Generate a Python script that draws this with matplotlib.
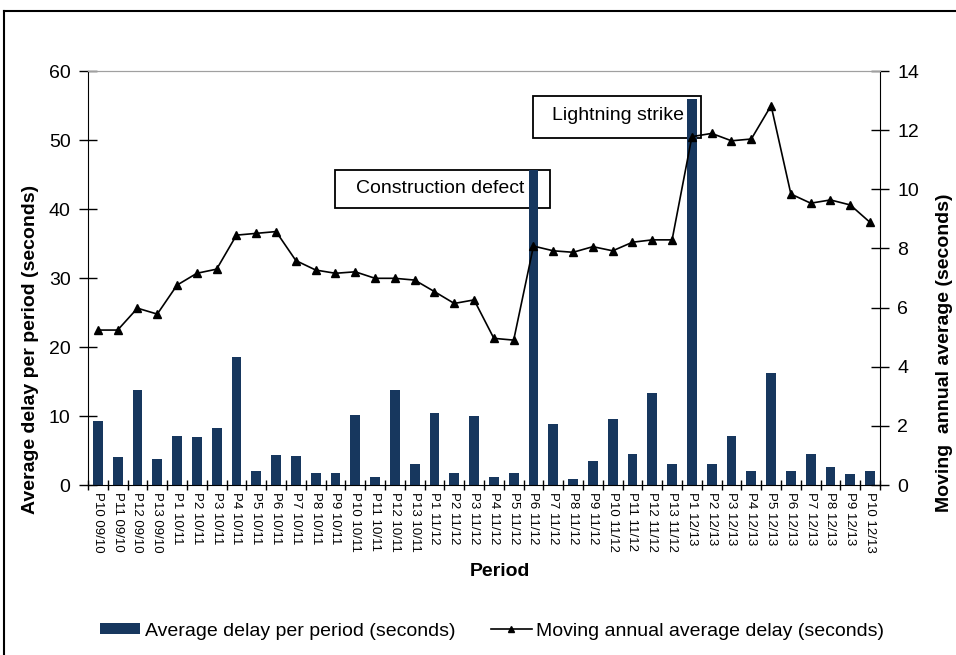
import matplotlib
matplotlib.use('Agg')
import matplotlib.pyplot as plt
from matplotlib.patches import Rectangle, Patch
from matplotlib.lines import Line2D
import numpy as np

plt.rcParams['font.family'] = ['Liberation Sans', 'DejaVu Sans']

# period labels, 4 weeks each (P1..P13 per financial year)
years = ['09/10', '10/11', '11/12', '12/13']
first_period = [10, 1, 1, 1]
last_period = [13, 13, 13, 10]
periods = [f'P{p} {y}' for y, a, b in zip(years, first_period, last_period) for p in range(a, b + 1)]

# average delay per period (seconds) - left axis
delay = [9.3, 4.0, 13.7, 3.8, 7.1, 6.9, 8.3, 18.5, 2.1, 4.4,
	4.2, 1.8, 1.8, 10.2, 1.1, 13.7, 3.0, 10.5, 1.8, 10.0,
	1.1, 1.8, 45.7, 8.8, 0.9, 3.5, 9.6, 4.5, 13.4, 3.0,
	55.9, 3.0, 7.1, 2.1, 16.3, 2.1, 4.5, 2.6, 1.6, 2.1]

# moving annual average delay (seconds) - right axis
moving = [5.24, 5.24, 5.98, 5.78, 6.76, 7.16, 7.30, 8.45, 8.51, 8.57,
	7.59, 7.27, 7.16, 7.21, 6.99, 6.99, 6.93, 6.54, 6.14, 6.26,
	4.96, 4.90, 8.08, 7.92, 7.87, 8.06, 7.92, 8.21, 8.29, 8.29,
	11.78, 11.89, 11.64, 11.70, 12.83, 9.84, 9.53, 9.64, 9.47, 8.88]

BAR = '#17375E'

fig = plt.figure(figsize=(9.56, 6.55), dpi=100)
ax = fig.add_axes([0.092, 0.2595, 0.8285, 0.6321])

x = np.arange(len(periods))
ax.bar(x, delay, width=0.5, color=BAR, zorder=2)
ax.set_xlim(-0.5, len(periods) - 0.5)
ax.set_ylim(0, 60)
ax.set_yticks(range(0, 61, 10))
ax.set_xticks(x)
ax.set_xticklabels(periods, rotation=270, fontsize=9.5)
ax.set_xticks(np.arange(-0.5, len(periods), 1), minor=True)
ax.tick_params(axis='x', which='major', length=0, pad=5)
ax.tick_params(axis='x', which='minor', length=7, direction='inout', width=1)
ax.tick_params(axis='y', length=13, direction='inout', labelsize=14, pad=6, width=1)
ax.spines['top'].set_color('#A0A0A0')
ax.spines['right'].set_visible(False)

# annotation boxes sit behind the bars
boxes = [((0.3119, 0.669), 0.2714, 0.092, (0.4444, 0.715), 'Construction defect'),
	((0.5619, 0.838), 0.2121, 0.1016, (0.6686, 0.8937), 'Lightning strike')]
for xy, w, h, txy, txt in boxes:
	ax.add_patch(Rectangle(xy, w, h, transform=ax.transAxes, facecolor='white',
		edgecolor='black', lw=1.3, zorder=1))
	ax.text(txy[0], txy[1], txt, transform=ax.transAxes, ha='center', va='center',
		fontsize=14, zorder=1.5)

ax2 = ax.twinx()
ax2.plot(x, moving, color='black', marker='^', markersize=6, lw=1.2)
ax2.set_ylim(0, 14)
ax2.set_yticks(range(0, 15, 2))
ax2.tick_params(axis='y', length=13, direction='inout', labelsize=14, pad=6, width=1)
ax2.spines['top'].set_color('#A0A0A0')
ax2.spines['left'].set_visible(False)
ax2.spines['bottom'].set_visible(False)

# axis titles
fig.text(0.032, 0.466, 'Average delay per period (seconds)', rotation=90,
	ha='center', va='center', fontsize=14, fontweight='bold')
fig.text(0.988, 0.462, 'Moving  annual average (seconds)', rotation=90,
	ha='center', va='center', fontsize=14, fontweight='bold')
fig.text(0.523, 0.128, 'Period', ha='center', va='center', fontsize=14, fontweight='bold')

# legend below the plot
handles = [Patch(facecolor=BAR, label='Average delay per period (seconds)'),
	Line2D([], [], color='black', marker='^', markersize=5, lw=1.2,
		label='Moving annual average delay (seconds)')]
fig.legend(handles=handles, loc='center', bbox_to_anchor=(0.5146, 0.0366), ncol=2,
	frameon=False, fontsize=14, handlelength=2.1, handleheight=0.5,
	handletextpad=0.25, columnspacing=1.8)

# outer chart frame (clipped on the right and bottom)
fig.add_artist(Line2D([4 / 956, 1], [1 - 11 / 655] * 2, color='black', lw=1.5, transform=fig.transFigure))
fig.add_artist(Line2D([4 / 956] * 2, [0, 1 - 11 / 655], color='black', lw=1.5, transform=fig.transFigure))

plt.savefig('out.png', dpi=100)
plt.close()
